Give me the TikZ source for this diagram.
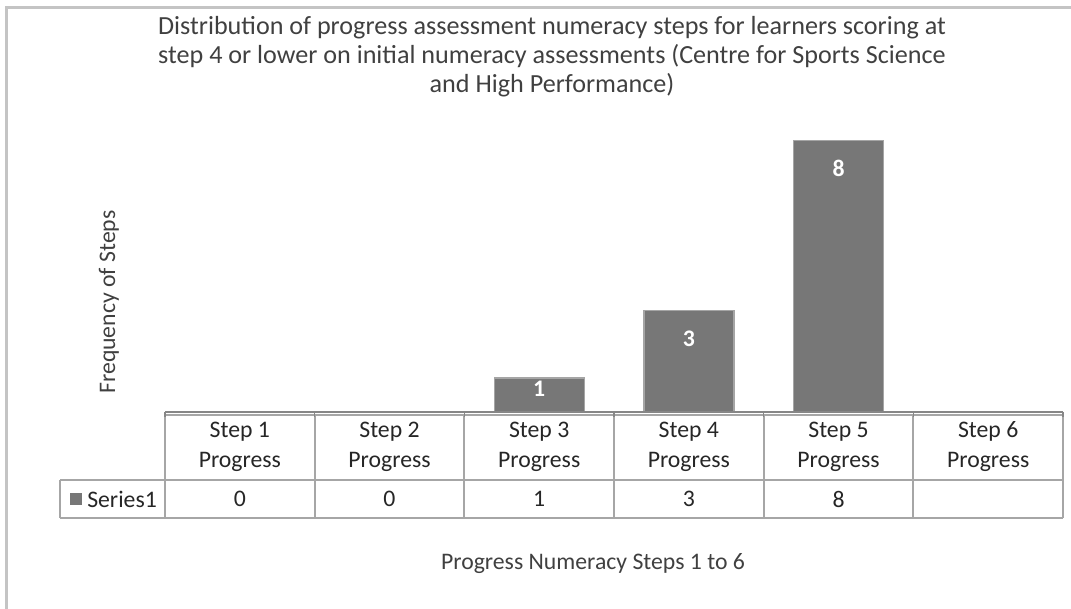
\documentclass[tikz,border=0pt]{standalone}
\usepackage{fontspec}
\setmainfont{Carlito}
\usepackage{xcolor}

\definecolor{barfill}{HTML}{777777}
\definecolor{baredge}{HTML}{A5A5A5}
\definecolor{tablegray}{HTML}{A6A6A6}
\definecolor{axisgray}{HTML}{868686}
\definecolor{framegray}{HTML}{C4C4C4}
\definecolor{textgray}{HTML}{404040}

\tikzset{
  chartfont/.style={font=\fontsize{17.8}{22.5}\selectfont},
  titletext/.style={text=textgray, align=center, font=\fontsize{17.8}{21.8}\selectfont},
  cell/.style={chartfont, text=black!85, align=center, inner sep=0pt},
  barlabel/.style={text=white, font=\fontsize{17.8}{22.5}\selectfont\bfseries, inner sep=0pt},
  tableline/.style={tablegray, line width=1.5pt},
}

\begin{document}
\begin{tikzpicture}[x=0.75pt,y=-0.75pt]
            \useasboundingbox (0,0) rectangle (1071,608);
            % outer frame of the chart
            \draw[framegray, line width=2.2pt] (6.5,620) -- (6.5,7.5) -- (1085,7.5);
            \node[titletext, font=\fontsize{19.6}{21.8}\selectfont] (title) at (552,57) {Distribution of progress assessment numeracy steps for learners scoring at\\step 4 or lower on initial numeracy assessments (Centre for Sports Science\\and High Performance)};
            \node[titletext, rotate=90] (ytitle) at (109,302) {Frequency of Steps};
            \node[titletext] (xtitle) at (593,564) {Progress Numeracy Steps 1 to 6};
            % bars
            \foreach \i/\v/\ly in {3/1/389, 4/3/339, 5/8/168} {
                \filldraw[fill=barfill, draw=baredge, line width=1pt]
                    ({165+(\i-0.5)*149.67-45},412) rectangle ({165+(\i-0.5)*149.67+45},{412-\v*33.9});
                \node[barlabel] (lab\i) at ({165+(\i-0.5)*149.67},\ly) {\v};
            }
            % data table
            \draw[tableline] (165,415) -- (1063,415);
            \draw[tableline] (60,480) -- (1063,480);
            \draw[tableline] (60,518) -- (1063,518);
            \draw[tableline] (60,480) -- (60,518);
            \foreach \i in {0,...,6}
                \draw[tableline] ({165+\i*149.67},415) -- ({165+\i*149.67},518);
            % category axis with ticks
            \draw[axisgray, line width=2.2pt] (165,412) -- (1063,412);
            \foreach \i in {0,...,6}
                \draw[axisgray, line width=1pt] ({165+\i*149.67},412) -- ({165+\i*149.67},417);
            \foreach \i in {1,...,6}
                \node[cell] (head\i) at ({165+(\i-0.5)*149.67},447) {Step \i\\Progress};
            \foreach \i/\v in {1/0, 2/0, 3/1, 4/3, 5/8}
                \node[cell] (val\i) at ({165+(\i-0.5)*149.67},499) {\v};
            \fill[barfill] (70,493) rectangle (82,505);
            \node[cell, anchor=west] (series) at (87,499) {Series1};
        \end{tikzpicture}
\end{document}
